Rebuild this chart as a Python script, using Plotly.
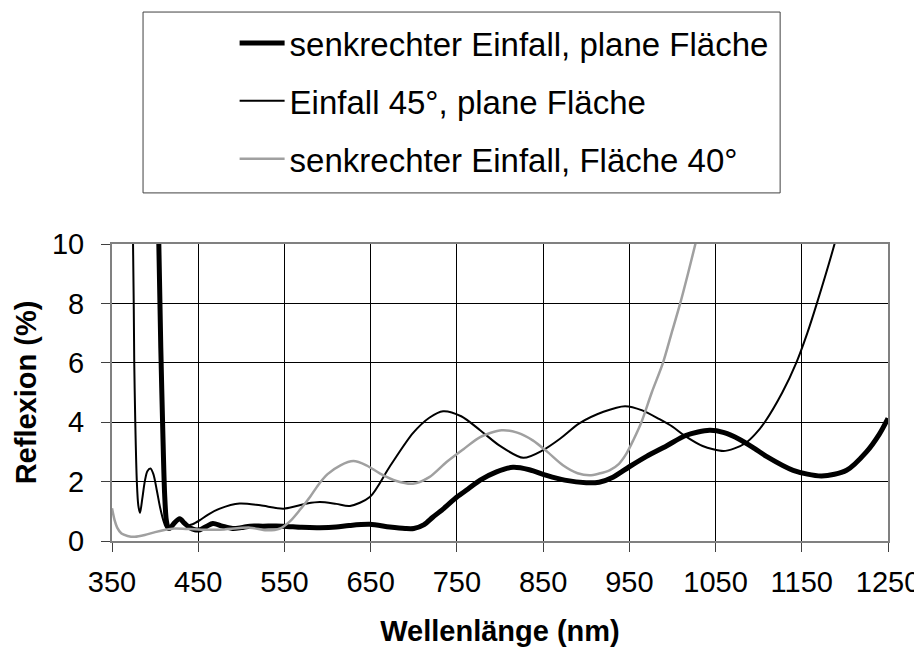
import plotly.graph_objects as go

# Wavelength (nm) and reflexion (%)
wl_plane = [403, 404.3, 406.6, 409, 411, 413, 415.5, 418, 422, 428.5, 434, 440, 446, 452, 460, 467, 478, 490, 500, 510, 525, 548, 570, 591, 610, 625, 649, 672, 690, 700, 712, 722, 735, 750, 763, 777, 796, 815, 834, 854, 875, 900, 915, 931, 950, 970, 993, 1016, 1043, 1060, 1078, 1095, 1109, 1140, 1173, 1202, 1225, 1240, 1250]
r_plane = [11.5, 10.0, 6.5, 3.6, 1.6, 0.7, 0.42, 0.45, 0.6, 0.75, 0.6, 0.45, 0.38, 0.38, 0.5, 0.59, 0.5, 0.42, 0.45, 0.5, 0.5, 0.5, 0.46, 0.45, 0.47, 0.52, 0.56, 0.47, 0.42, 0.42, 0.55, 0.8, 1.1, 1.48, 1.75, 2.05, 2.33, 2.48, 2.4, 2.21, 2.05, 1.96, 1.98, 2.15, 2.5, 2.85, 3.2, 3.56, 3.73, 3.65, 3.42, 3.12, 2.85, 2.38, 2.19, 2.38, 3.0, 3.6, 4.13]

wl_45 = [372.5, 374.4, 375.8, 377, 378.8, 380.5, 382.5, 385, 388, 391, 394.6, 398, 402, 406, 410, 413, 418, 423, 428.5, 434, 438, 446, 452, 462, 475, 498, 522, 549, 576, 591, 610, 626, 649, 672, 699, 718, 734, 755, 777, 800, 827, 850, 870, 892, 920, 945, 965, 985, 1000, 1014, 1035, 1059, 1072, 1085, 1096, 1107, 1127.4, 1143.6, 1156.4, 1167.5, 1188, 1196]
r_45 = [11.5, 10.0, 6.0, 4.0, 2.0, 1.2, 0.95, 1.4, 2.0, 2.35, 2.44, 2.25, 1.7, 1.1, 0.65, 0.45, 0.45, 0.6, 0.75, 0.62, 0.53, 0.6, 0.7, 0.9, 1.09, 1.26, 1.2, 1.09, 1.26, 1.31, 1.25, 1.18, 1.48, 2.5, 3.63, 4.15, 4.37, 4.2, 3.73, 3.2, 2.8, 3.06, 3.45, 3.96, 4.35, 4.54, 4.4, 4.1, 3.85, 3.55, 3.2, 3.03, 3.12, 3.3, 3.6, 4.0, 5.0, 6.0, 7.0, 8.0, 10.0, 10.9]

wl_40 = [350, 353, 356, 361, 368, 376.5, 388, 400, 412, 423, 440, 453.7, 475, 510, 529, 545, 556, 568, 580, 589, 600, 615, 630, 645, 661, 680, 699, 718, 738, 758, 777, 802, 820, 838, 855, 873, 890, 904, 915, 927, 938, 946.6, 955, 964, 976, 989, 999, 1009, 1018, 1026.6, 1032]
r_40 = [1.1, 0.7, 0.45, 0.25, 0.17, 0.14, 0.2, 0.3, 0.38, 0.42, 0.4, 0.38, 0.38, 0.45, 0.36, 0.42, 0.65, 1.05, 1.5, 1.88, 2.25, 2.55, 2.69, 2.55, 2.27, 2.02, 1.93, 2.15, 2.66, 3.1, 3.5, 3.73, 3.65, 3.39, 3.0, 2.55, 2.28, 2.21, 2.27, 2.38, 2.6, 2.94, 3.42, 4.0, 5.0, 6.0, 7.0, 8.0, 9.0, 10.0, 10.65]

x_ticks = [350, 450, 550, 650, 750, 850, 950, 1050, 1150, 1250]
y_ticks = [0, 2, 4, 6, 8, 10]

names = ["senkrechter Einfall, plane Fläche", "Einfall 45°, plane Fläche", "senkrechter Einfall, Fläche 40°"]

FONT = "Liberation Sans, Arial, sans-serif"

fig = go.Figure()
fig.add_trace(go.Scatter(x=wl_plane, y=r_plane, mode="lines", name=names[0], legendgroup="a",
                         line=dict(color="#000000", width=5, shape="spline", smoothing=0.8)))
fig.add_trace(go.Scatter(x=wl_45, y=r_45, mode="lines", name=names[1], legendgroup="b",
                         line=dict(color="#000000", width=2, shape="spline", smoothing=0.8)))
fig.add_trace(go.Scatter(x=wl_40, y=r_40, mode="lines", name=names[2], legendgroup="c",
                         line=dict(color="#a0a0a0", width=2.5, shape="spline", smoothing=0.8)))

# The page adds an 8px body margin, so the figure is 914x639 and shifted accordingly
fig.update_layout(
    width=914, height=639,
    margin=dict(l=104, r=34, t=236, b=106, autoexpand=False),
    paper_bgcolor="white", plot_bgcolor="white",
    font=dict(family=FONT, color="#000000", size=29),
    showlegend=True,
    legend=dict(x=0.158, y=1.771, xanchor="left", yanchor="top",
                font=dict(family=FONT, size=33, color="#000000"),
                bgcolor="rgba(0,0,0,0)", borderwidth=0,
                tracegroupgap=12, itemwidth=45),
    shapes=[dict(type="rect", xref="paper", yref="paper", x0=0.04, x1=0.861, y0=1.172, y1=1.781,
                 line=dict(color="#404040", width=1), fillcolor="rgba(0,0,0,0)")],
)

fig.update_xaxes(range=[350, 1250], tickvals=x_ticks, ticktext=[str(v) for v in x_ticks],
                 showgrid=True, gridcolor="#000000", gridwidth=1,
                 showline=True, linecolor="#808080", linewidth=2, mirror=True,
                 ticks="outside", ticklen=9, tickcolor="#404040", tickwidth=1,
                 tickfont=dict(size=29, family=FONT), ticklabelstandoff=5,
                 title=dict(text="<b>Wellenlänge (nm)</b>", font=dict(size=29, family=FONT), standoff=29),
                 zeroline=False)
fig.update_yaxes(range=[0, 10], tickvals=y_ticks, ticktext=[str(v) for v in y_ticks],
                 showgrid=True, gridcolor="#000000", gridwidth=1,
                 showline=True, linecolor="#808080", linewidth=2, mirror=True,
                 ticks="outside", ticklen=9, tickcolor="#404040", tickwidth=1,
                 tickfont=dict(size=29, family=FONT), ticklabelstandoff=11,
                 title=dict(text="<b>Reflexion (%)</b>", font=dict(size=29, family=FONT), standoff=7),
                 zeroline=False)

fig.write_html("out.html")
